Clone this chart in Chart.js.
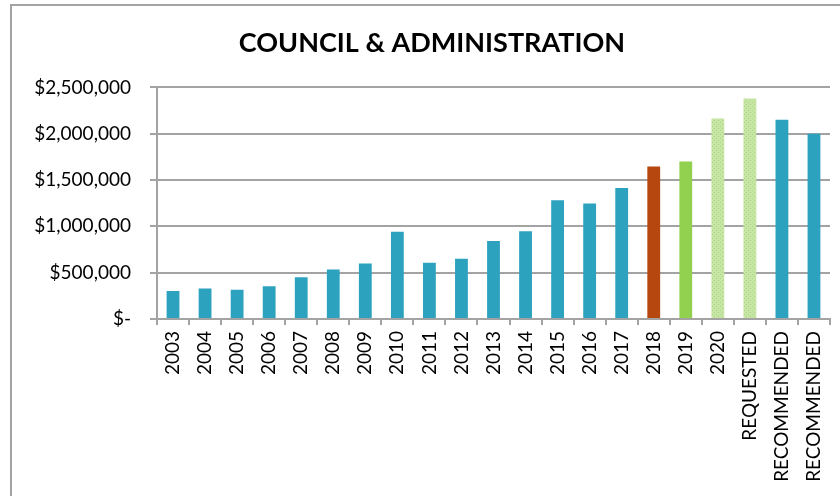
<!DOCTYPE html>
<html>
<head>
<meta charset="utf-8">
<title>Council &amp; Administration</title>
<script src="https://cdn.jsdelivr.net/npm/chart.js@4"></script>
<style>
  html, body { margin: 0; padding: 0; background: #fff; overflow: hidden; }
  body { width: 840px; height: 496px; position: relative; }
  #frame {
    position: absolute; left: 10px; top: 4px;
    width: 844px; height: 496px;
    border-left: 2px solid #a3a3a3; border-top: 2px solid #a3a3a3;
  }
  #wrap { position: absolute; left: 0; top: 0; width: 842px; height: 490px; }
</style>
</head>
<body>
<div id="frame"><div id="wrap"><canvas id="budget"></canvas></div></div>
<script>
// budget by year, plus the requested / recommended amounts
const labels = ['2003', '2004', '2005', '2006', '2007', '2008', '2009', '2010', '2011', '2012',
  '2013', '2014', '2015', '2016', '2017', '2018', '2019', '2020', 'REQUESTED', 'RECOMMENDED', 'RECOMMENDED'];
const amounts = [303000, 328000, 317000, 354000, 451000, 534000, 599000, 942000, 608000, 651000,
  842000, 946000, 1281000, 1248000, 1415000, 1645000, 1699000, 2163000, 2379000, 2152000, 2001000];
const yTicks = [0, 500000, 1000000, 1500000, 2000000, 2500000];

// dotted light green fill for the 2020 / requested bars
function dotPattern() {
  const c = document.createElement('canvas');
  c.width = 4; c.height = 4;
  const g = c.getContext('2d');
  g.fillStyle = '#c7e5a3';
  g.fillRect(0, 0, 4, 4);
  g.fillStyle = '#a9d487';
  g.fillRect(0, 0, 1, 1);
  g.fillRect(2, 2, 1, 1);
  return g.createPattern(c, 'repeat');
}
const dots = dotPattern();

function barColor(ctx) {
  const lbl = labels[ctx.dataIndex];
  if (lbl === '2018') return '#b5470f';
  if (lbl === '2019') return '#92d050';
  if (lbl === '2020' || lbl === 'REQUESTED') return dots;
  return '#2ca2bf';
}

function money(v) {
  if (v === 0) return '$-';
  return '$' + v.toLocaleString('en-US');
}

const font = 'Lato, "Open Sans", sans-serif';
const gridGrey = '#a3a3a3';

new Chart(document.getElementById('budget'), {
  type: 'bar',
  data: {
    labels: labels,
    datasets: [{
      data: amounts,
      backgroundColor: barColor,
      borderWidth: 0,
      categoryPercentage: 1,
      barPercentage: 0.4
    }]
  },
  options: {
    responsive: true,
    maintainAspectRatio: false,
    animation: false,
    // left padding keeps the title centred over the whole frame
    layout: { padding: { left: 22, right: 24, top: 0, bottom: 0 } },
    plugins: {
      legend: { display: false },
      tooltip: { enabled: false },
      title: {
        display: true,
        text: 'COUNCIL & ADMINISTRATION',
        color: '#000',
        font: { family: font, size: 27, weight: 'bold' },
        padding: { top: 21, bottom: 28 }
      }
    },
    scales: {
      x: {
        grid: { offset: true, drawOnChartArea: false, drawTicks: true, tickLength: 6, color: gridGrey, lineWidth: 2 },
        border: { color: gridGrey, width: 2 },
        ticks: {
          minRotation: 90, maxRotation: 90, autoSkip: false, padding: 6,
          color: '#000', font: { family: font, size: 19 }
        },
        afterFit: s => { s.height = 177; }
      },
      y: {
        min: 0, max: 2500000,
        afterBuildTicks: s => { s.ticks = yTicks.map(v => ({ value: v })); },
        grid: { color: gridGrey, lineWidth: 2, tickLength: 7 },
        border: { color: gridGrey, width: 2 },
        ticks: {
          padding: 19, color: '#000',
          font: { family: font, size: 19 },
          callback: v => money(v)
        },
        afterFit: s => { s.width = 123; }
      }
    }
  }
});
</script>
</body>
</html>
